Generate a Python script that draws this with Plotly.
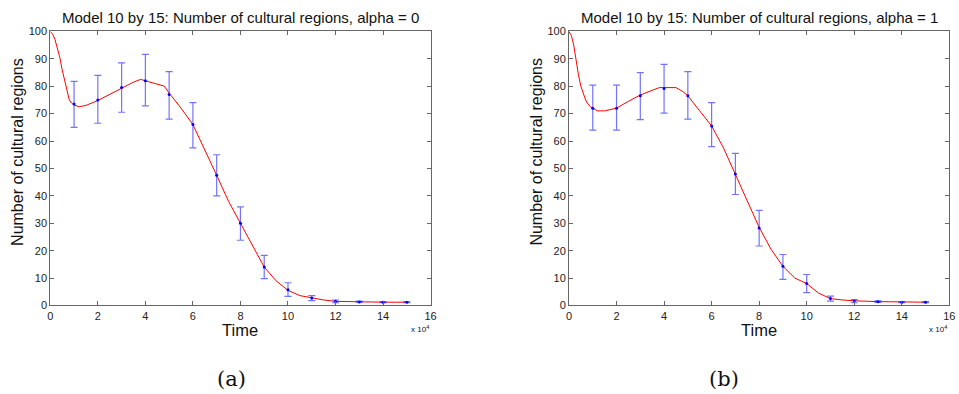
import plotly.graph_objects as go

# ---- data (time in units of 10^4) ----
curve_t = [0, 0.1, 0.2, 0.3, 0.4, 0.5, 0.6, 0.7, 0.8, 0.9, 1.0, 1.2, 1.5, 2.0, 2.5, 3.0, 3.5, 3.8, 4.0,
           4.5, 4.8, 5.0, 5.5, 6.0, 6.5, 7.0, 7.5, 8.0, 8.5, 9.0, 9.5, 10.0, 10.5, 11.0, 11.5, 12.0,
           13.0, 14.0, 15.0]
curve_a = [100, 99, 97, 94, 90.5, 86, 82, 78, 75, 73.8, 73.2, 72.5, 73, 74.8, 77, 79.5, 81.5, 82.5, 82,
           80.8, 80, 77.5, 72, 66, 57, 47.5, 38, 30, 21.5, 14, 9, 5.5, 3.6, 2.8, 2.0, 1.5,
           1.3, 1.2, 1.2]
curve_b = [100, 98.5, 95, 89, 84, 80, 77.5, 75, 73.5, 72.5, 72, 71, 71, 72, 74.5, 76.8, 78.5, 79.5, 79.5,
           79.5, 78, 76.5, 71, 65.5, 57.5, 48, 38, 28.5, 20.5, 14.3, 10, 8, 4.5, 2.5, 2.0, 1.7,
           1.4, 1.2, 1.2]

bar_t = [1, 2, 3, 4, 5, 6, 7, 8, 9, 10, 11, 12, 13, 14, 15]
mean_a = [73.5, 75, 79.5, 82, 77, 66, 47.5, 30, 14, 5.7, 2.7, 1.5, 1.3, 1.2, 1.2]
low_a = [65, 66.5, 70.5, 72.8, 68, 57.5, 40, 23.8, 9.8, 3.3, 1.8, 1.0, 1.1, 1.0, 1.0]
high_a = [81.8, 84, 88.5, 91.6, 85.3, 74, 55, 36, 18.3, 8.3, 3.6, 2.0, 1.6, 1.4, 1.4]
mean_b = [72, 72, 76.5, 79.2, 76.5, 65.5, 48, 28.3, 14.3, 8, 2.5, 1.6, 1.4, 1.2, 1.2]
low_b = [64, 64, 67.8, 70.2, 68, 58, 40.5, 21.7, 9.5, 4.7, 1.6, 1.0, 1.1, 1.0, 1.0]
high_b = [80.4, 80.4, 85, 88, 85.3, 74, 55.5, 34.7, 18.6, 11.3, 3.4, 2.1, 1.7, 1.4, 1.4]

titles = ["Model 10 by 15: Number of cultural regions, alpha = 0",
          "Model 10 by 15: Number of cultural regions, alpha = 1"]
captions = ["(a)", "(b)"]
x_ticks = [0, 2, 4, 6, 8, 10, 12, 14, 16]
y_ticks = [0, 10, 20, 30, 40, 50, 60, 70, 80, 90, 100]

W, H = 959, 394


def PX(xt):
    return (xt - 2.5) / 0.995 / W


def PY(yt):
    return 1 - (yt - 8.4) / 0.957 / H


doms = [(PX(50), PX(432)), (PX(571), PX(953))]
ydom = (PY(304), PY(33.5))

fig = go.Figure()
sets = [(curve_a, mean_a, low_a, high_a), (curve_b, mean_b, low_b, high_b)]
for i, (cv, m, lo, hi) in enumerate(sets):
    xa = "x" if i == 0 else "x2"
    ya = "y" if i == 0 else "y2"
    fig.add_trace(go.Scatter(x=curve_t, y=cv, mode="lines", line=dict(color="red", width=1),
                             xaxis=xa, yaxis=ya, showlegend=False))
    fig.add_trace(go.Scatter(
        x=bar_t, y=m, mode="markers", xaxis=xa, yaxis=ya, showlegend=False,
        marker=dict(color="blue", size=3),
        error_y=dict(type="data", symmetric=False,
                     array=[h - v for h, v in zip(hi, m)],
                     arrayminus=[v - l for v, l in zip(m, lo)],
                     color="rgba(40,40,255,0.65)", thickness=1.2, width=3.5)))

axis_common = dict(showline=True, linecolor="#666", linewidth=1, mirror="ticks", ticks="inside",
                   ticklen=4, tickcolor="#666", showgrid=False, zeroline=False,
                   tickfont=dict(family="Liberation Sans, Arial", size=11, color="#222"))

layout = dict(width=W, height=H, margin=dict(l=0, r=0, t=0, b=0), plot_bgcolor="white",
              paper_bgcolor="white", showlegend=False)
for i in range(2):
    sfx = "" if i == 0 else "2"
    layout["xaxis" + sfx] = dict(axis_common, domain=doms[i], range=[0, 16], tickvals=x_ticks,
                                 anchor="y" + sfx)
    layout["yaxis" + sfx] = dict(axis_common, domain=ydom, range=[0, 100], tickvals=y_ticks,
                                 anchor="x" + sfx)
fig.update_layout(**layout)

font = "Liberation Sans, Arial"
caption_x = [232, 727]
ytitle_x = [17, 538]
for i in range(2):
    cx = (doms[i][0] + doms[i][1]) / 2
    fig.add_annotation(text=titles[i], x=cx, y=PY(20), xref="paper", yref="paper",
                       showarrow=False, font=dict(family=font, size=15, color="#111"),
                       xanchor="center", yanchor="middle")
    fig.add_annotation(text="Time", x=cx, y=PY(328), xref="paper", yref="paper",
                       showarrow=False, font=dict(family=font, size=16.5, color="#111"),
                       xanchor="center", yanchor="middle")
    fig.add_annotation(text="Number of cultural regions", x=PX(ytitle_x[i]), y=PY(152),
                       xref="paper", yref="paper", textangle=-90,
                       showarrow=False, font=dict(family=font, size=16, color="#111"),
                       xanchor="center", yanchor="middle")
    fig.add_annotation(text="x 10<sup>4</sup>", x=doms[i][1] - 11 / W, y=PY(327),
                       xref="paper", yref="paper",
                       showarrow=False, font=dict(family=font, size=8, color="#111"),
                       xanchor="center", yanchor="middle")
    fig.add_annotation(text=captions[i], x=PX(caption_x[i]), y=1 - 385 / H,
                       xref="paper", yref="paper",
                       showarrow=False, font=dict(family="DejaVu Serif, Liberation Serif", size=21,
                                                  color="#111"),
                       xanchor="center", yanchor="middle")

fig.write_html("out.html")
